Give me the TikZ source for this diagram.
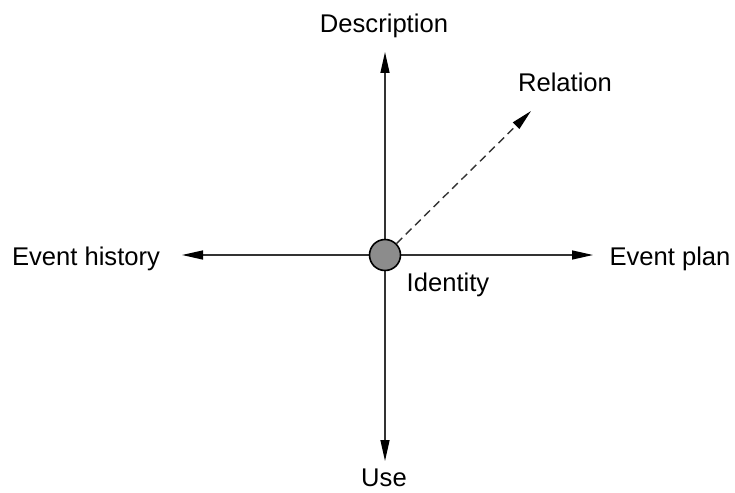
\documentclass[tikz,border=0pt]{standalone}
\usepackage{fontspec}
\setmainfont{Liberation Sans}
\usetikzlibrary{arrows.meta}
\begin{document}
\begin{tikzpicture}[x=1pt,y=-1pt,
  axis/.style={draw=black!80,line width=1.4pt,-{Triangle[length=21pt,width=9pt,color=black]}},
  rel/.style={axis,dash pattern=on 8pt off 5pt},
  lbl/.style={font=\fontsize{25.6}{30}\selectfont,anchor=base,inner sep=0pt},
  hub/.style={circle,draw=black,line width=1.6pt,fill=black!45,minimum size=31pt,inner sep=0pt}]
\useasboundingbox (0,0) rectangle (735,492);
\coordinate (tup) at (385,52);
\coordinate (tdown) at (385,461);
\coordinate (tleft) at (182,255);
\coordinate (tright) at (593,255);
\coordinate (trel) at (531,111);
\draw[axis] (385,255) -- (tup);
\draw[axis] (385,255) -- (tdown);
\draw[axis] (385,255) -- (tleft);
\draw[axis] (385,255) -- (tright);
\node[hub] (c) at (385,255) {};
\draw[rel] (c.45) -- (trel);
\node[lbl] (desc) at (384,33) {Description};
\node[lbl] (relat) at (565,92) {Relation};
\node[lbl] (hist) at (86,265) {Event history};
\node[lbl] (plan) at (670,265) {Event plan};
\node[lbl] (ident) at (448,291) {Identity};
\node[lbl] (use) at (384,486) {Use};
\end{tikzpicture}
\end{document}
